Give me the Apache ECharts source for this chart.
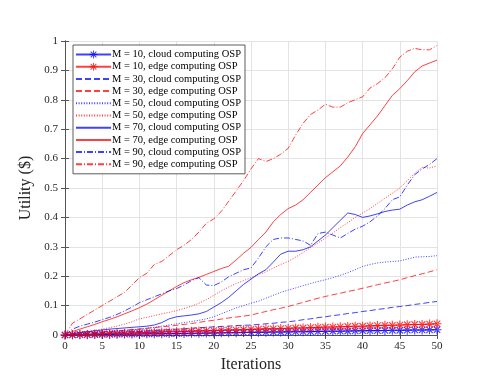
<!DOCTYPE html>
<html>
<head>
    <meta charset="utf-8">
    <title>utility</title>
    <style type="text/css">
        * { margin: 0; padding: 0; }
        #canvas { width: 485px; height: 388px; background: #fff; }
    </style>
</head>
<body>
<div id="canvas"></div>
<script src="https://cdn.jsdelivr.net/npm/echarts@6/dist/echarts.min.js"></script>
<script type="text/javascript">

    // iterations 0..50
    var iterations = [];
    for (var i = 0; i <= 50; i++) iterations.push(i);

    var xTicks = [0, 5, 10, 15, 20, 25, 30, 35, 40, 45, 50];
    var yTicks = [0, 0.1, 0.2, 0.3, 0.4, 0.5, 0.6, 0.7, 0.8, 0.9, 1];

    var names = [
        'M = 10, cloud computing OSP', 'M = 10, edge computing OSP',
        'M = 30, cloud computing OSP', 'M = 30, edge computing OSP',
        'M = 50, cloud computing OSP', 'M = 50, edge computing OSP',
        'M = 70, cloud computing OSP', 'M = 70, edge computing OSP',
        'M = 90, cloud computing OSP', 'M = 90, edge computing OSP'
    ];

    var cloud10 = [0,0.0005,0.001,0.001,0.0015,0.002,0.002,0.0025,0.003,0.003,0.0035,
        0.004,0.004,0.0045,0.005,0.005,0.0055,0.006,0.006,0.0065,0.007,
        0.0075,0.008,0.008,0.0085,0.009,0.009,0.0095,0.01,0.01,0.0105,
        0.011,0.011,0.0115,0.012,0.0125,0.013,0.013,0.0135,0.014,0.0145,
        0.015,0.015,0.0155,0.016,0.016,0.0165,0.017,0.017,0.0175,0.018];
    var edge10 = [0,0.001,0.002,0.002,0.003,0.004,0.005,0.005,0.006,0.007,0.008,
        0.008,0.009,0.01,0.011,0.011,0.012,0.013,0.014,0.014,0.015,
        0.016,0.017,0.017,0.018,0.019,0.02,0.021,0.021,0.022,0.023,
        0.024,0.024,0.025,0.026,0.027,0.027,0.028,0.029,0.03,0.03,
        0.031,0.032,0.033,0.033,0.034,0.035,0.036,0.036,0.037,0.038];
    var cloud30 = [0,0.001,0.002,0.004,0.005,0.006,0.007,0.008,0.01,0.011,0.012,
        0.014,0.015,0.017,0.018,0.02,0.021,0.023,0.025,0.026,0.028,
        0.029,0.03,0.032,0.033,0.034,0.036,0.038,0.04,0.043,0.045,
        0.048,0.052,0.055,0.059,0.062,0.066,0.069,0.073,0.076,0.08,
        0.083,0.087,0.09,0.094,0.097,0.1,0.104,0.107,0.111,0.114];
    var edge30 = [0,0.002,0.004,0.006,0.008,0.01,0.012,0.014,0.016,0.018,0.02,
        0.023,0.025,0.028,0.03,0.033,0.036,0.039,0.043,0.047,0.05,
        0.054,0.058,0.061,0.064,0.068,0.074,0.08,0.086,0.091,0.097,
        0.104,0.111,0.118,0.125,0.131,0.137,0.142,0.148,0.153,0.159,
        0.165,0.171,0.177,0.182,0.188,0.195,0.202,0.208,0.215,0.222];
    var cloud50 = [0,0.002,0.004,0.006,0.008,0.01,0.012,0.014,0.016,0.018,0.02,
        0.023,0.026,0.03,0.034,0.038,0.042,0.046,0.05,0.055,0.062,
        0.072,0.082,0.092,0.1,0.108,0.115,0.125,0.135,0.145,0.153,
        0.16,0.168,0.175,0.182,0.188,0.195,0.203,0.212,0.222,0.233,
        0.24,0.245,0.248,0.25,0.252,0.258,0.265,0.266,0.267,0.27];
    var edge50 = [0,0.004,0.008,0.012,0.016,0.02,0.025,0.03,0.037,0.045,0.055,
        0.06,0.066,0.072,0.077,0.083,0.09,0.098,0.108,0.12,0.135,
        0.15,0.163,0.175,0.185,0.195,0.205,0.215,0.228,0.24,0.25,
        0.265,0.28,0.297,0.313,0.33,0.347,0.365,0.382,0.4,0.415,
        0.43,0.448,0.465,0.482,0.5,0.525,0.55,0.57,0.568,0.575];
    var cloud70 = [0,0.004,0.008,0.011,0.014,0.017,0.02,0.022,0.024,0.026,0.028,
        0.03,0.034,0.042,0.055,0.062,0.065,0.068,0.072,0.08,0.095,
        0.11,0.128,0.15,0.172,0.19,0.208,0.222,0.248,0.275,0.285,
        0.285,0.29,0.3,0.32,0.34,0.365,0.39,0.415,0.41,0.4,
        0.405,0.412,0.42,0.425,0.428,0.442,0.453,0.46,0.472,0.485];
    var edge70 = [0,0.012,0.02,0.028,0.036,0.045,0.053,0.062,0.072,0.082,0.093,
        0.105,0.12,0.135,0.15,0.165,0.178,0.188,0.196,0.206,0.216,
        0.226,0.234,0.255,0.278,0.298,0.325,0.35,0.385,0.41,0.43,
        0.442,0.46,0.485,0.51,0.535,0.555,0.575,0.605,0.64,0.685,
        0.715,0.745,0.78,0.815,0.838,0.865,0.895,0.915,0.925,0.935];
    var cloud90 = [0,0.02,0.03,0.037,0.044,0.052,0.06,0.07,0.082,0.095,0.11,
        0.12,0.13,0.14,0.15,0.158,0.17,0.185,0.195,0.17,0.168,
        0.18,0.198,0.21,0.222,0.228,0.262,0.3,0.325,0.33,0.33,
        0.325,0.32,0.305,0.345,0.35,0.34,0.33,0.345,0.36,0.37,
        0.385,0.405,0.43,0.46,0.47,0.51,0.545,0.565,0.58,0.6];
    var edge90 = [0,0.04,0.055,0.07,0.085,0.1,0.115,0.13,0.145,0.17,0.195,
        0.21,0.24,0.25,0.27,0.29,0.305,0.325,0.35,0.38,0.395,
        0.42,0.455,0.49,0.525,0.565,0.6,0.59,0.6,0.615,0.635,
        0.68,0.72,0.75,0.765,0.785,0.775,0.775,0.79,0.8,0.81,
        0.84,0.855,0.875,0.905,0.945,0.965,0.975,0.97,0.97,0.985];

    var seriesValues = [cloud10, edge10, cloud30, edge30, cloud50, edge50, cloud70, edge70, cloud90, edge90];
    var lineTypes = ['solid', 'solid', [6, 3], [6, 3], [1, 1.6], [1, 1.6], 'solid', 'solid', [6, 2, 1, 2], [6, 2, 1, 2]];

    var blue = 'rgba(0,0,255,0.75)';
    var red = 'rgba(255,0,0,0.75)';
    var serif = 'Liberation Serif';

    // asterisk marker, like matlab '*'
    var star = 'path://M0,4.4h10v1.2h-10z M4.4,0h1.2v10h-1.2z M1,1.9l0.9,-0.9l7.1,7.1l-0.9,0.9z M9,1.9l-0.9,-0.9l-7.1,7.1l0.9,0.9z';

    var series = [];
    var legendData = [];
    for (var k = 0; k < names.length; k++) {
        var col = (k % 2 === 0) ? blue : red;
        var marked = k < 2;
        var pts = [];
        for (var j = 0; j < iterations.length; j++) pts.push([iterations[j], seriesValues[k][j]]);
        series.push({
            name: names[k],
            type: 'line',
            data: pts,
            color: col,
            symbol: marked ? star : 'none',
            symbolSize: 9,
            showSymbol: marked,
            animation: false,
            z: marked ? 3 : 2,
            lineStyle: { width: 1, type: lineTypes[k], color: col },
            itemStyle: { color: col }
        });
        legendData.push(marked ? { name: names[k] } :
            { name: names[k], itemStyle: { color: 'transparent', opacity: 0 } });
    }

    var myChart = echarts.init(document.getElementById('canvas'));

    var axisLineStyle = { color: '#555', width: 1 };

    var option = {
        backgroundColor: '#fff',
        animation: false,
        grid: { left: 65, right: 48, top: 41, bottom: 53 },
        legend: {
            orient: 'vertical',
            left: 73,
            top: 45,
            padding: [4, 4, 4, 2],
            itemWidth: 35,
            itemHeight: 10,
            itemGap: 1.2,
            backgroundColor: '#fff',
            borderColor: '#333',
            borderWidth: 0.8,
            borderRadius: 0,
            textStyle: { fontFamily: serif, fontSize: 10.5, color: '#000', padding: [0, 0, 0, -4] },
            data: legendData
        },
        xAxis: [{
            type: 'value',
            min: 0, max: 50, interval: 5,
            name: 'Iterations',
            nameLocation: 'middle',
            nameGap: 21,
            nameTextStyle: { fontFamily: serif, fontSize: 16, color: '#262626' },
            axisLine: { show: true, lineStyle: axisLineStyle },
            axisTick: { show: true, inside: true, length: 4, lineStyle: axisLineStyle },
            axisLabel: { fontFamily: serif, fontSize: 11, color: '#262626', margin: 6,
                formatter: function (v) { return xTicks.indexOf(v) >= 0 ? String(v) : ''; } },
            splitLine: { show: true, lineStyle: { color: '#e3e3e3', width: 1 } }
        }, {
            type: 'value', position: 'top',
            min: 0, max: 50, interval: 5,
            axisLine: { show: true, lineStyle: axisLineStyle },
            axisTick: { show: true, inside: true, length: 4, lineStyle: axisLineStyle },
            axisLabel: { show: false },
            splitLine: { show: false }
        }],
        yAxis: [{
            type: 'value',
            min: 0, max: 1, interval: 0.1,
            name: 'Utility ($)',
            nameLocation: 'middle',
            nameGap: 29,
            nameTextStyle: { fontFamily: serif, fontSize: 16, color: '#262626' },
            axisLine: { show: true, lineStyle: axisLineStyle },
            axisTick: { show: true, inside: true, length: 4, lineStyle: axisLineStyle },
            axisLabel: { fontFamily: serif, fontSize: 11, color: '#262626', margin: 7,
                formatter: function (v) {
                    for (var t = 0; t < yTicks.length; t++) if (Math.abs(yTicks[t] - v) < 1e-9) return String(yTicks[t]);
                    return '';
                } },
            splitLine: { show: true, lineStyle: { color: '#e3e3e3', width: 1 } }
        }, {
            type: 'value', position: 'right',
            min: 0, max: 1, interval: 0.1,
            axisLine: { show: true, lineStyle: axisLineStyle },
            axisTick: { show: true, inside: true, length: 4, lineStyle: axisLineStyle },
            axisLabel: { show: false },
            splitLine: { show: false }
        }],
        series: series
    };

    myChart.setOption(option);
</script>
</body>
</html>
